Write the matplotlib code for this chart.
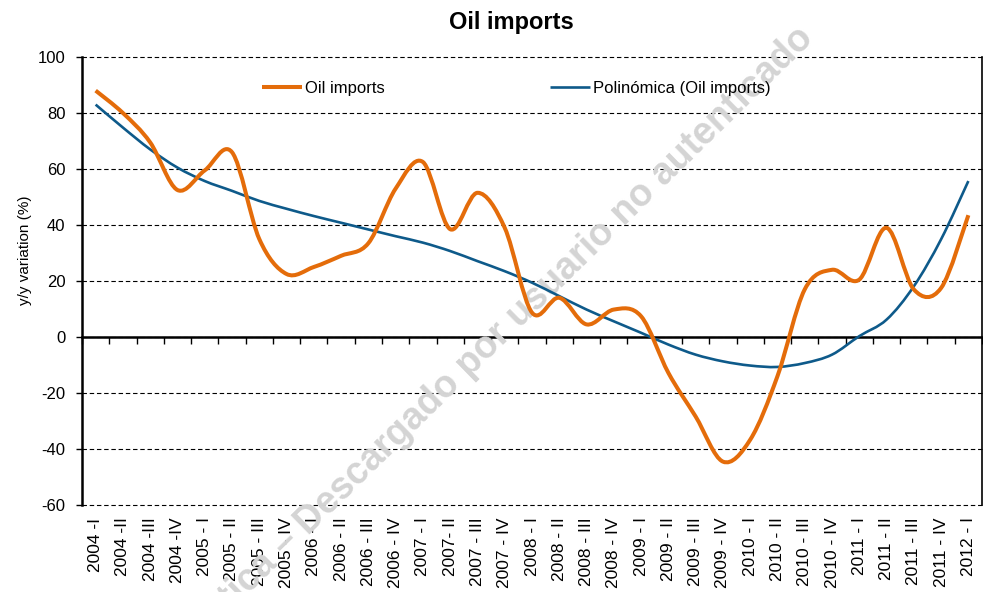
import numpy as np
import matplotlib
matplotlib.use("Agg")
import matplotlib.pyplot as plt
from matplotlib.path import Path
from matplotlib.patches import PathPatch
from matplotlib.lines import Line2D

plt.rcParams["font.family"] = ["Liberation Sans", "DejaVu Sans"]
plt.rcParams["axes.unicode_minus"] = False

# ── Data ────────────────────────────────────────────────────────────────────
quarters = [
    "2004 -I", "2004 -II", "2004 -III", "2004 -IV",
    "2005 - I", "2005 - II", "2005 - III", "2005 - IV",
    "2006 - I", "2006 - II", "2006 - III", "2006 - IV",
    "2007 - I", "2007- II", "2007 - III", "2007 - IV",
    "2008 - I", "2008 - II", "2008 - III", "2008 - IV",
    "2009 - I", "2009 - II", "2009 - III", "2009 - IV",
    "2010 - I", "2010 - II", "2010 - III", "2010 - IV",
    "2011 - I", "2011 - II", "2011 - III", "2011 - IV",
    "2012 - I",
]

oil_imports = [
    88.0, 80.0, 69.5, 52.5, 59.5, 66.0, 35.0, 22.5,
    25.0, 29.0, 33.5, 53.0, 62.5, 38.5, 51.5, 39.0,
    8.7, 14.0, 4.5, 9.8, 7.4, -12.8, -28.4, -44.5,
    -36.7, -14.0, 17.0, 24.0, 20.5, 39.0, 17.0, 17.5,
    43.5,
]

poly_trend = [
    83.0, 74.8, 67.0, 60.5, 55.7, 52.2, 48.6, 45.8,
    43.2, 40.8, 38.4, 36.0, 33.7, 30.7, 27.1, 23.5,
    19.4, 14.6, 9.8, 5.6, 1.5, -2.7, -6.3, -8.7,
    -10.2, -10.7, -9.3, -6.3, 0.3, 6.2, 18.1, 34.9,
    55.7,
]

ORANGE = "#E46C0A"
BLUE = "#0E5A8A"


def smooth_path(xs, ys):
    """Excel-style smoothed line: cubic Bezier segments (Catmull-Rom)."""
    n = len(xs)
    verts = [(xs[0], ys[0])]
    codes = [Path.MOVETO]
    for i in range(n - 1):
        xa, ya = (xs[i - 1], ys[i - 1]) if i > 0 else (xs[i], ys[i])
        xb, yb = (xs[i + 2], ys[i + 2]) if i + 2 < n else (xs[i + 1], ys[i + 1])
        c1 = (xs[i] + (xs[i + 1] - xa) / 6, ys[i] + (ys[i + 1] - ya) / 6)
        c2 = (xs[i + 1] - (xb - xs[i]) / 6, ys[i + 1] - (yb - ys[i]) / 6)
        verts += [c1, c2, (xs[i + 1], ys[i + 1])]
        codes += [Path.CURVE4] * 3
    return Path(verts, codes)


fig = plt.figure(figsize=(9.83, 5.92), dpi=100)
ax = fig.add_axes([82 / 983, 87 / 592, 900 / 983, 448 / 592])

x = np.arange(len(quarters))

ax.add_patch(PathPatch(smooth_path(x, poly_trend), fill=False,
                       edgecolor=BLUE, lw=1.9, capstyle="butt",
                       joinstyle="round", zorder=3))
ax.add_patch(PathPatch(smooth_path(x, oil_imports), fill=False,
                       edgecolor=ORANGE, lw=2.9, capstyle="butt",
                       joinstyle="round", zorder=4))

ax.set_xlim(-0.5, len(quarters) - 0.5)
ax.set_ylim(-60, 100)
ax.set_yticks(range(-60, 101, 20))
ax.tick_params(axis="y", labelsize=12, length=4, width=1, pad=8, direction="out")
ax.grid(axis="y", color="black", linewidth=0.8, linestyle=(0, (4, 2.5)))
ax.set_axisbelow(True)
for gl in ax.get_ygridlines():
    gl.set_clip_on(False)  # keep the dashed borders at 100 and -60 whole

# horizontal axis line at zero with tick marks between categories
ax.spines["bottom"].set_position(("data", 0))
ax.spines["bottom"].set_linewidth(1.8)
ax.spines["left"].set_linewidth(1.8)
ax.spines["top"].set_visible(False)
ax.spines["right"].set_linewidth(1.2)
ax.set_xticks(np.arange(-0.5, len(quarters), 1.0))
ax.tick_params(axis="x", labelbottom=False, length=5, width=1, direction="out")

# category labels at the bottom of the plot area
sec = ax.secondary_xaxis(0.0)
sec.set_xticks(x, quarters, rotation=90, fontsize=12.5)
sec.tick_params(axis="x", length=0, pad=9)
sec.spines["bottom"].set_visible(False)

ax.set_ylabel("y/y variation (%)", fontsize=11)
ax.yaxis.set_label_coords((32 - 82) / 900, (505 - 250) / 448)

fig.text(511 / 983, 1 - 23 / 592, "Oil imports", fontsize=17,
         fontweight="bold", ha="center", va="center")

handles = [
    Line2D([], [], color=ORANGE, lw=2.9, solid_capstyle="butt"),
    Line2D([], [], color=BLUE, lw=1.9, solid_capstyle="butt"),
]
ax.legend(handles, ["Oil imports", "Polinómica (Oil imports)"],
          loc="center left", bbox_to_anchor=(180 / 900, 0.929), ncol=2,
          frameon=False, fontsize=12, handlelength=2.4, handletextpad=0.2,
          columnspacing=9.9, borderpad=0, borderaxespad=0)

# watermark, drawn under the data lines
ax.text(808 / 983, 1 - 33 / 592,
        "tica – Descargado por usuario no autenticado",
        transform=fig.transFigure, clip_on=False,
        fontsize=27, fontweight="bold", color="#d4d4d4",
        rotation=44.4, rotation_mode="anchor", ha="right", va="center",
        zorder=2.6)

fig.savefig("out.png", dpi=100)
